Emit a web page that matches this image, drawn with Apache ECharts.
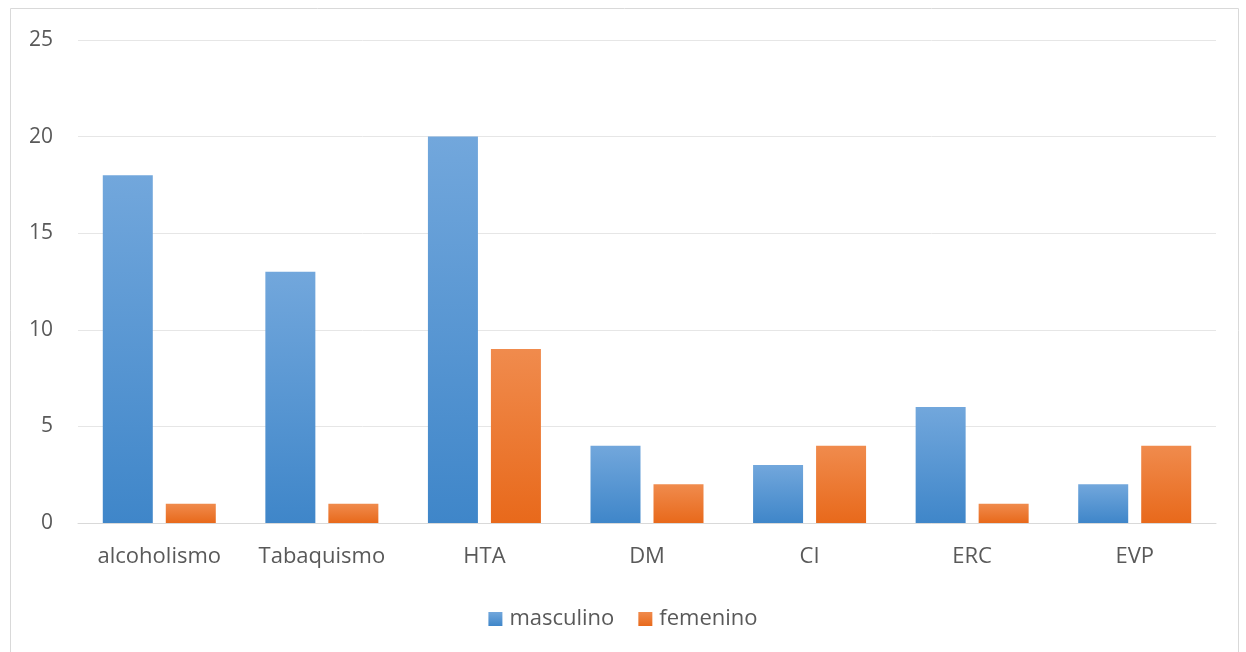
<!DOCTYPE html>
<html><head><meta charset="utf-8">
<script src="https://cdn.jsdelivr.net/npm/echarts@6/dist/echarts.min.js"></script>
<style>html,body{margin:0;padding:0;background:#fff}#c{width:1246px;height:652px}</style>
</head><body><div id="c"></div>
<script>
const categories = ['alcoholismo','Tabaquismo','HTA','DM','CI','ERC','EVP'];
const masculino = [18,13,20,4,3,6,2];
const femenino = [1,1,9,2,4,1,4];
const yTicks = [0,5,10,15,20,25];

const chart = echarts.init(document.getElementById('c'));
const font = '"Open Sans", "Noto Sans", sans-serif';
function grad(top, bottom){
  return new echarts.graphic.LinearGradient(0,0,0,1,[{offset:0,color:top},{offset:1,color:bottom}]);
}
chart.setOption({
  animation:false,
  textStyle:{fontFamily:font},
  graphic:[{type:'rect',shape:{x:10.5,y:8.5,width:1228,height:660},style:{fill:'none',stroke:'#d9d9d9',lineWidth:1}}],
  grid:{left:78,right:30,top:40,bottom:129},
  legend:{
    data:['masculino','femenino'],top:603,left:'center',
    itemWidth:14,itemHeight:14,itemGap:24,icon:'rect',
    textStyle:{color:'#595959',fontSize:22,fontFamily:font,padding:[0,0,0,2]}
  },
  xAxis:{
    type:'category',data:categories,
    axisLine:{lineStyle:{color:'#d9d9d9'}},axisTick:{show:false},
    axisLabel:{color:'#595959',fontSize:22,margin:23,interval:0,fontFamily:font}
  },
  yAxis:{
    type:'value',min:yTicks[0],max:yTicks[yTicks.length-1],interval:5,
    axisLine:{show:false},axisTick:{show:false},
    splitLine:{lineStyle:{color:'#e6e6e6'}},
    axisLabel:{color:'#595959',fontSize:21,margin:25,fontFamily:font}
  },
  series:[
    {name:'masculino',type:'bar',data:masculino,barWidth:50,barGap:'26%',
     itemStyle:{color:grad('#72a7dc','#3f86c9')}},
    {name:'femenino',type:'bar',data:femenino,barWidth:50,
     itemStyle:{color:grad('#f08b4d','#e8691b')}}
  ]
});
</script></body></html>
